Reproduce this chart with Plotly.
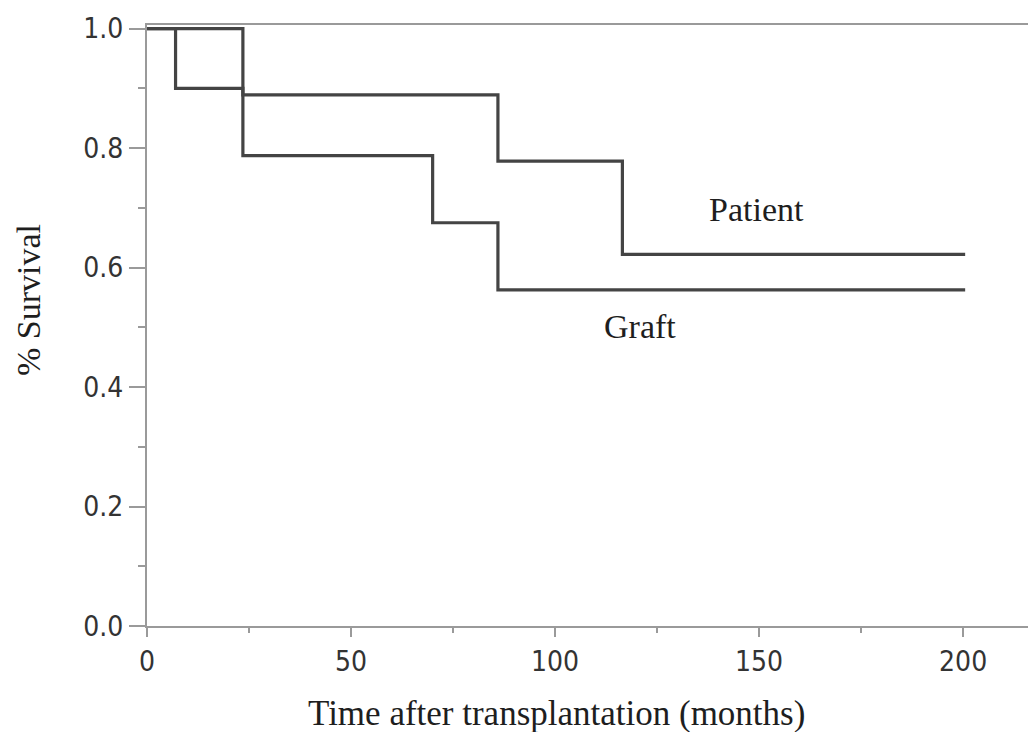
import plotly.graph_objects as go

graft_t = [0, 7, 23.5, 70, 86, 200.5]
graft_s = [1.0, 0.9, 0.7875, 0.675, 0.5625, 0.5625]
patient_t = [0, 23.5, 86, 116.5, 200.5]
patient_s = [1.0, 0.889, 0.778, 0.622, 0.622]

x_ticks = [0, 50, 100, 150, 200]
y_ticks = [0.0, 0.2, 0.4, 0.6, 0.8, 1.0]
y_tick_labels = ["0.0", "0.2", "0.4", "0.6", "0.8", "1.0"]

line_color = "#444444"
axis_color = "#9a9a9a"
tick_font = dict(size=28, family="DejaVu Sans Condensed, DejaVu Sans", color="#333333")
serif = dict(family="Liberation Serif", size=34, color="#1e1e1e")
title_font = dict(family="Liberation Serif", size=35, color="#1e1e1e")

fig = go.Figure()
fig.add_trace(go.Scatter(x=graft_t, y=graft_s, mode="lines", line=dict(shape="hv", color=line_color, width=3.2), name="Graft"))
fig.add_trace(go.Scatter(x=patient_t, y=patient_s, mode="lines", line=dict(shape="hv", color=line_color, width=3.2), name="Patient"))

L, R, T, B = 147, 0, 25, 106
W, H = 1028, 732
pw, ph = W - L - R, H - T - B

fig.update_layout(
    width=W, height=H,
    margin=dict(l=L, r=R, t=T, b=B),
    paper_bgcolor="white", plot_bgcolor="white",
    showlegend=False,
    xaxis=dict(
        range=[0, 215.9], tickvals=x_ticks, ticks="outside", ticklen=9, tickwidth=2, tickcolor=axis_color,
        showline=True, linecolor=axis_color, linewidth=2, mirror=True, showgrid=False, zeroline=False,
        tickfont=tick_font,
        minor=dict(tickvals=[25, 75, 125, 175], ticks="outside", ticklen=5, tickwidth=2, tickcolor=axis_color),
    ),
    yaxis=dict(
        range=[0, 1.006], tickvals=y_ticks, ticktext=y_tick_labels, ticks="outside", ticklen=16, tickwidth=2, tickcolor=axis_color,
        showline=True, linecolor=axis_color, linewidth=2, showgrid=False, zeroline=False,
        tickfont=tick_font,
        minor=dict(tickvals=[0.1, 0.3, 0.5, 0.7, 0.9], ticks="outside", ticklen=7, tickwidth=2, tickcolor=axis_color),
    ),
    annotations=[
        dict(text="Patient", x=149.4, y=0.698, xref="x", yref="y", showarrow=False, font=serif),
        dict(text="Graft", x=120.7, y=0.502, xref="x", yref="y", showarrow=False, font=serif),
        dict(text="Time after transplantation (months)", x=(556 - L) / pw, y=(H - B - 713) / ph,
             xref="paper", yref="paper", xanchor="center", yanchor="middle", showarrow=False, font=title_font),
        dict(text="% Survival", x=(28 - L) / pw, y=(H - B - 300) / ph, textangle=-90,
             xref="paper", yref="paper", xanchor="center", yanchor="middle", showarrow=False, font=serif),
    ],
)

fig.write_html("out.html", config={"displayModeBar": False},
               post_script="document.body.style.margin='0';document.body.style.overflow='hidden';")
